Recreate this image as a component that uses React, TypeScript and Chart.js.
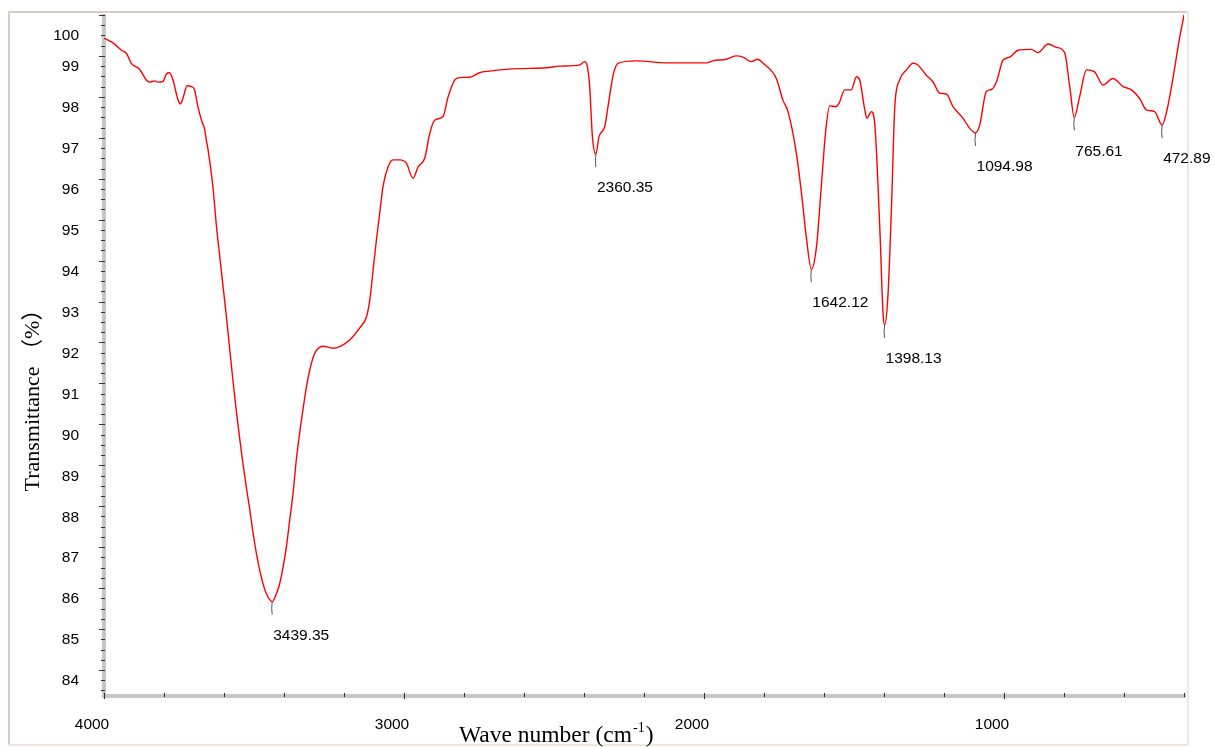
import React, { useEffect, useRef } from 'react';
import { Chart, registerables } from 'chart.js';

Chart.register(...registerables);

// Wave numbers (cm-1)
const wavenumbers = [
  4000, 3970, 3942, 3925, 3909, 3881, 3859, 3848, 3831, 3820, 3803, 3792, 3781, 3770, 3753, 3745, 3737, 3723, 3709, 3698,
  3687, 3675, 3664, 3659, 3653, 3637, 3625, 3614, 3603, 3592, 3581, 3570, 3559, 3548, 3537, 3525, 3514, 3503, 3492, 3481,
  3470, 3459, 3439.35, 3425, 3414, 3403, 3392, 3381, 3370, 3359, 3348, 3337, 3325, 3314, 3298, 3270, 3237, 3214, 3181, 3148,
  3125, 3114, 3103, 3092, 3081, 3070, 3053, 3037, 3014, 2992, 2970, 2953, 2931, 2914, 2898, 2870, 2853, 2831, 2814, 2781,
  2748, 2714, 2681, 2614, 2525, 2481, 2414, 2398, 2390, 2381, 2372, 2360.35, 2350, 2331, 2320, 2303, 2287, 2225, 2125, 1992,
  1970, 1925, 1894, 1870, 1842, 1820, 1803, 1759, 1737, 1720, 1692, 1675, 1659, 1642.12, 1625, 1609, 1594, 1581, 1561, 1550,
  1531, 1509, 1492, 1481, 1464, 1457, 1442, 1431, 1414, 1403, 1398.13, 1387, 1375, 1364, 1348, 1325, 1303, 1287, 1259, 1237,
  1214, 1192, 1170, 1137, 1114, 1094.98, 1081, 1059, 1042, 1025, 1003, 981, 953, 909, 887, 853, 825, 798, 781, 765.61,
  748, 725, 698, 670, 637, 603, 575, 548, 525, 498, 472.89, 459, 436, 414, 403, 400,
];

// Transmittance (%)
const transmittance = [
  99.43, 99.32, 99.14, 99.06, 98.82, 98.67, 98.41, 98.36, 98.39, 98.36, 98.38, 98.56, 98.59, 98.41, 97.92, 97.83, 97.96, 98.27, 98.25, 98.17,
  97.76, 97.43, 97.19, 96.95, 96.70, 95.81, 94.83, 94.09, 93.36, 92.63, 91.84, 91.06, 90.33, 89.67, 89.05, 88.44, 87.91, 87.34, 86.85, 86.44,
  86.11, 85.87, 85.67, 85.87, 86.12, 86.52, 87.01, 87.66, 88.31, 89.13, 89.78, 90.35, 90.92, 91.33, 91.73, 91.91, 91.86, 91.90, 92.06, 92.35,
  92.63, 93.04, 93.77, 94.50, 95.16, 95.81, 96.29, 96.46, 96.46, 96.38, 96.01, 96.29, 96.50, 97.11, 97.43, 97.52, 98.0, 98.41, 98.47, 98.48,
  98.59, 98.63, 98.66, 98.69, 98.71, 98.75, 98.78, 98.86, 98.78, 98.25, 97.03, 96.60, 97.03, 97.27, 97.76, 98.53, 98.82, 98.88, 98.83, 98.83,
  98.88, 98.92, 99.0, 98.97, 98.86, 98.92, 98.82, 98.45, 97.92, 97.64, 96.62, 95.64, 94.58, 93.79, 94.34, 95.81, 97.19, 97.78, 97.76, 97.84,
  98.17, 98.17, 98.49, 98.41, 97.68, 97.48, 97.64, 97.36, 94.80, 92.69, 92.43, 93.12, 95.32, 97.76, 98.41, 98.66, 98.82, 98.78, 98.53, 98.37,
  98.09, 98.07, 97.76, 97.48, 97.23, 97.12, 97.31, 98.13, 98.18, 98.37, 98.90, 98.97, 99.14, 99.16, 99.08, 99.29, 99.21, 99.08, 98.25, 97.50,
  98.0, 98.66, 98.61, 98.29, 98.45, 98.25, 98.17, 97.96, 97.68, 97.64, 97.31, 97.60, 98.49, 99.47, 99.88, 100.0,
];

// Labelled peaks
const peakWavenumbers = [3439.35, 2360.35, 1642.12, 1398.13, 1094.98, 765.61, 472.89];
const peakTransmittance = [85.67, 96.6, 93.79, 92.43, 97.12, 97.5, 97.31];
const peakLabels = ['3439.35', '2360.35', '1642.12', '1398.13', '1094.98', '765.61', '472.89'];

// Axis ticks
const xTickValues = [4000, 3000, 2000, 1000];
const yTickValues = [84, 85, 86, 87, 88, 89, 90, 91, 92, 93, 94, 95, 96, 97, 98, 99, 100];
const xMinorStep = 200;
const yMinorStep = 0.25;

const xTitle = 'Wave number (cm';
const xTitleSup = '-1';
const xTitleEnd = ')';
const yTitle = 'Transmittance （%）';

const SANS = "'Liberation Sans', Arial, sans-serif";
const SERIF = "'Liberation Serif', 'Times New Roman', 'Noto Sans CJK SC', serif";

const decorPlugin = {
  id: 'decor',
  beforeDraw(chart: any) {
    const ctx = chart.ctx;
    ctx.save();
    ctx.fillStyle = '#ffffff';
    ctx.fillRect(0, 0, chart.width, chart.height);
    // sunken frame
    ctx.fillStyle = '#d4d0c8';
    ctx.fillRect(8, 11, 2, 735);
    ctx.fillRect(8, 11, 1180, 2);
    ctx.fillStyle = '#ece8df';
    ctx.fillRect(1187, 11, 2, 735);
    ctx.fillRect(8, 744, 1181, 2);
    ctx.restore();
  },
  beforeDatasetsDraw(chart: any) {
    const { ctx, chartArea: a, scales } = chart;
    const x = scales.x;
    const y = scales.y;
    ctx.save();
    // axis bands
    ctx.fillStyle = '#c6c6c6';
    ctx.fillRect(a.left - 2, a.top, 4, a.bottom - a.top + 2);
    ctx.fillRect(a.left - 1, a.bottom - 2, a.right - a.left + 3, 4);
    ctx.strokeStyle = '#333333';
    ctx.lineWidth = 1;
    ctx.beginPath();
    // y ticks (major every 1, minor every 0.25)
    const kTop = Math.floor(y.max / yMinorStep + 1e-6);
    const kBottom = Math.ceil(y.min / yMinorStep - 1e-6);
    for (let k = kTop; k >= kBottom; k--) {
      const val = k * yMinorStep;
      const py = Math.round(y.getPixelForValue(val)) + 0.5;
      const major = Math.abs(val - Math.round(val)) < 1e-6;
      ctx.moveTo(a.left - (major ? 5 : 3), py);
      ctx.lineTo(a.left + 1, py);
    }
    // x ticks every 200
    for (let val = x.max; val >= x.min; val -= xMinorStep) {
      const px = Math.round(x.getPixelForValue(val)) + 0.5;
      const major = val % 1000 === 0;
      ctx.moveTo(px, a.bottom - 3);
      ctx.lineTo(px, a.bottom + (major ? 3 : 1));
    }
    ctx.stroke();
    ctx.restore();
  },
  afterDatasetsDraw(chart: any) {
    const { ctx, scales } = chart;
    const x = scales.x;
    const y = scales.y;
    ctx.save();
    ctx.strokeStyle = '#555555';
    ctx.lineWidth = 1;
    ctx.fillStyle = '#000000';
    ctx.font = `15.5px ${SANS}`;
    ctx.textAlign = 'left';
    ctx.textBaseline = 'middle';
    peakWavenumbers.forEach((wn, i) => {
      const px = x.getPixelForValue(wn);
      const py = y.getPixelForValue(peakTransmittance[i]);
      ctx.beginPath();
      ctx.moveTo(px, py);
      ctx.quadraticCurveTo(px - 1, py + 7, px, py + 13);
      ctx.stroke();
      ctx.fillText(peakLabels[i], px + 1, py + 34);
    });
    ctx.restore();
  },
  afterDraw(chart: any) {
    const ctx = chart.ctx;
    ctx.save();
    ctx.fillStyle = '#000000';
    ctx.textBaseline = 'alphabetic';
    ctx.textAlign = 'left';
    const x0 = 459;
    const base = 742;
    ctx.font = `23.5px ${SERIF}`;
    ctx.fillText(xTitle, x0, base);
    const w1 = ctx.measureText(xTitle).width;
    ctx.font = `14px ${SERIF}`;
    ctx.fillText(xTitleSup, x0 + w1 + 1, base - 10);
    const w2 = ctx.measureText(xTitleSup).width;
    ctx.font = `23.5px ${SERIF}`;
    ctx.fillText(xTitleEnd, x0 + w1 + w2 + 2, base);

    ctx.translate(33, 395);
    ctx.rotate(-Math.PI / 2);
    ctx.textAlign = 'center';
    ctx.textBaseline = 'middle';
    ctx.font = `22px ${SERIF}`;
    ctx.fillText(yTitle, 0, 0);
    ctx.restore();
  },
};

export default function App() {
  const canvasRef = useRef<HTMLCanvasElement | null>(null);

  useEffect(() => {
    const canvas = canvasRef.current;
    if (!canvas) return;
    const points = wavenumbers.map((wn, i) => ({ x: wn, y: transmittance[i] }));
    const chart = new Chart(canvas, {
      type: 'line',
      data: {
        datasets: [
          {
            data: points,
            borderColor: '#ff0000',
            borderWidth: 1.4,
            pointRadius: 0,
            fill: false,
            cubicInterpolationMode: 'monotone',
          },
        ],
      },
      options: {
        responsive: false,
        animation: false,
        devicePixelRatio: 1,
        layout: { padding: { left: 0, top: 14, right: 31, bottom: 0 } },
        plugins: {
          legend: { display: false },
          tooltip: { enabled: false },
        },
        scales: {
          x: {
            type: 'linear',
            reverse: true,
            min: 400,
            max: 4000,
            grid: { display: false },
            border: { display: false },
            afterBuildTicks: (s: any) => {
              s.ticks = xTickValues.map((v) => ({ value: v }));
            },
            afterFit: (s: any) => {
              s.height = 51;
              s.paddingLeft = 0;
              s.paddingRight = 0;
            },
            ticks: {
              autoSkip: false,
              maxRotation: 0,
              padding: 11,
              labelOffset: -12,
              color: '#000000',
              font: { family: SANS, size: 15.5 },
              callback: (v: any) => String(v),
            },
          },
          y: {
            type: 'linear',
            min: 83.365,
            max: 100.024,
            grid: { display: false },
            border: { display: false },
            afterBuildTicks: (s: any) => {
              s.ticks = yTickValues.map((v) => ({ value: v }));
            },
            afterFit: (s: any) => {
              s.width = 104;
              s.paddingTop = 0;
              s.paddingBottom = 0;
            },
            ticks: {
              autoSkip: false,
              padding: 17,
              labelOffset: 11,
              color: '#000000',
              font: { family: SANS, size: 15.5 },
              callback: (v: any) => (v === 100 ? ['', '100'] : String(v)),
            },
          },
        },
      },
      plugins: [decorPlugin],
    } as any);
    return () => chart.destroy();
  }, []);

  return (
    <div style={{ position: 'absolute', left: 0, top: 0, width: 1215, height: 747 }}>
      <canvas ref={canvasRef} width={1215} height={747} style={{ display: 'block' }} />
    </div>
  );
}
